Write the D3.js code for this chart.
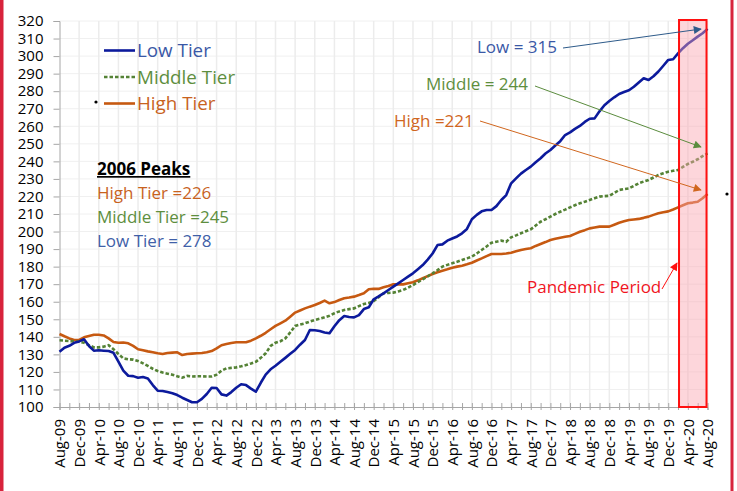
<!DOCTYPE html>
<html>
<head>
<meta charset="utf-8">
<script src="https://cdn.jsdelivr.net/npm/d3@7"></script>
<style>
  body { margin: 0; background: #fff; }
  svg { display: block; font-family: "Open Sans", sans-serif; }
</style>
</head>
<body>
<div id="chart"></div>
<script>
// monthly index values, Aug-09 .. Aug-20
var lowTier = [131.5,133.8,134.9,136.6,137.4,138.6,134.8,132.1,132.3,132.1,131.9,130.9,125.8,120.7,117.8,117.6,116.7,117.1,116.3,112.5,
  109.3,109.1,108.5,107.8,106.8,105.3,104.0,102.7,102.7,104.6,107.4,111.0,110.8,107.2,106.5,108.5,111.0,113.0,112.5,110.5,
  108.7,113.8,118.5,121.5,123.5,125.8,128.0,130.3,132.5,135.5,138.2,143.9,143.7,143.3,142.5,142.0,146.0,149.5,151.9,151.3,
  151.1,152.4,155.8,156.8,161.4,163.0,164.8,166.7,168.6,170.5,172.4,174.3,176.2,178.5,180.9,184.0,187.5,192.3,192.7,194.8,
  196.0,197.2,199.0,201.5,207.0,209.5,211.5,212.3,212.3,214.5,218.0,220.8,227.5,230.3,233.0,235.1,237.0,239.5,241.8,244.5,
  246.5,249.0,251.5,255.0,256.5,258.5,260.2,262.5,264.3,264.5,268.5,272.0,274.4,276.5,278.4,279.5,280.5,282.5,285.0,287.4,
  286.4,288.5,291.2,294.5,297.8,298.2,301.5,304.5,307.0,309.0,311.1,313.0,315.5];

var middleTier = [138.0,137.8,137.6,137.4,137.2,136.6,135.3,134.0,134.0,134.4,135.2,132.9,130.2,127.7,127.2,127.0,126.2,124.9,123.4,121.8,
  120.5,119.6,119.0,118.4,117.5,116.7,117.7,117.4,117.5,117.5,117.4,117.4,118.4,120.7,122.0,122.3,122.6,123.2,123.9,124.8,
  125.8,128.0,130.6,134.8,136.6,137.5,139.1,142.5,146.2,147.0,147.7,148.7,149.6,150.3,151.1,152.0,153.4,154.5,155.3,155.8,
  156.2,157.5,158.7,159.3,160.4,162.5,164.8,165.0,165.2,165.9,166.7,168.0,169.5,171.2,172.8,174.5,176.2,178.0,180.0,181.0,
  181.9,182.8,183.8,184.7,185.7,187.5,189.5,191.5,193.6,194.2,194.8,194.2,196.7,197.8,199.0,200.2,201.3,203.4,205.6,207.0,
  208.5,210.0,211.3,212.5,213.8,215.0,216.1,217.0,218.0,219.0,219.9,220.2,220.4,222.0,223.7,224.2,224.6,226.0,227.5,228.5,
  229.4,230.8,232.2,233.2,234.1,234.6,235.1,236.8,238.5,239.8,241.2,243.0,244.5];

var highTier = [141.6,140.3,139.1,138.2,138.2,139.7,140.5,141.2,141.2,140.8,139.1,137.0,136.6,136.8,136.3,134.8,132.9,132.3,131.7,131.2,
  130.6,130.2,130.8,131.0,131.2,129.6,130.2,130.4,130.6,130.8,131.2,131.9,133.4,135.2,135.9,136.5,136.9,136.9,136.9,137.8,
  139.1,140.6,142.3,144.3,146.2,147.7,149.2,151.5,153.8,155.0,156.2,157.2,158.1,159.3,160.6,159.1,159.8,161.0,162.0,162.4,
  162.9,163.8,164.8,167.1,167.4,167.3,168.2,169.0,169.9,169.9,169.9,170.5,171.1,172.2,173.4,174.6,175.8,176.8,177.7,178.5,
  179.4,180.0,180.5,181.3,182.2,183.5,184.7,186.0,187.2,187.2,187.2,187.5,187.9,188.7,189.5,190.0,190.5,191.8,192.9,194.0,
  195.2,195.9,196.5,197.0,197.5,198.7,199.9,200.8,201.8,202.3,202.8,202.8,202.8,203.9,205.0,205.8,206.6,206.9,207.2,207.8,
  208.5,209.5,210.4,211.0,211.5,212.6,213.8,215.0,216.1,216.5,217.0,219.0,221.4];

var tickLabels = ["Aug-09","Dec-09","Apr-10","Aug-10","Dec-10","Apr-11","Aug-11","Dec-11","Apr-12","Aug-12","Dec-12",
  "Apr-13","Aug-13","Dec-13","Apr-14","Aug-14","Dec-14","Apr-15","Aug-15","Dec-15","Apr-16","Aug-16","Dec-16",
  "Apr-17","Aug-17","Dec-17","Apr-18","Aug-18","Dec-18","Apr-19","Aug-19","Dec-19","Apr-20","Aug-20"];

var yTicks = d3.range(100, 321, 10);
var pandemicPeriod = [126.2, 131.8]; // month index, Feb-20 .. Jul-20

var seriesNames = ["Low Tier", "Middle Tier", "High Tier"];
var peaks2006 = [["High Tier =226", "#c8621e"], ["Middle Tier =245", "#5e8e3e"], ["Low Tier = 278", "#3f5fa8"]];

var W = 737, H = 491;
var svg = d3.select("#chart").append("svg").attr("width", W).attr("height", H);
svg.append("rect").attr("width", W).attr("height", H).attr("fill", "#fff");

var x = d3.scaleLinear().domain([0, lowTier.length - 1]).range([59.5, 707.5]);
var y = d3.scaleLinear().domain([100, 320]).range([407, 21]);

// gridlines
svg.append("g").selectAll("line").data(yTicks.slice(1)).join("line")
  .attr("x1", x(0)).attr("x2", x(132))
  .attr("y1", function(d) { return y(d); }).attr("y2", function(d) { return y(d); })
  .attr("stroke", "#f0f0f0").attr("stroke-width", 1);
svg.append("g").selectAll("line").data(d3.range(4, 133, 4)).join("line")
  .attr("x1", function(d) { return x(d); }).attr("x2", function(d) { return x(d); })
  .attr("y1", y(320)).attr("y2", y(100))
  .attr("stroke", "#ececec").attr("stroke-width", 1.5);

// y axis
var yAxis = svg.append("g").attr("transform", "translate(" + x(0) + ",0)")
  .call(d3.axisLeft(y).tickValues(yTicks).tickSize(6).tickPadding(10));
yAxis.select(".domain").attr("stroke", "#a6a6a6");
yAxis.selectAll(".tick line").attr("stroke", "#a6a6a6");
yAxis.selectAll("text").attr("font-size", "15px").attr("fill", "#000").attr("font-family", "Open Sans");

// x axis
var xAxis = svg.append("g").attr("transform", "translate(0," + y(100) + ")")
  .call(d3.axisBottom(x).tickValues(d3.range(0, 133, 2)).tickSize(3)
    .tickFormat(function(d) { return d % 4 === 0 ? tickLabels[d / 4] : ""; }));
xAxis.select(".domain").attr("stroke", "#a6a6a6");
xAxis.selectAll(".tick line").attr("stroke", "#a6a6a6").attr("y1", -4).attr("y2", 3);
xAxis.selectAll("text")
  .attr("font-size", "15px").attr("fill", "#000").attr("font-family", "Open Sans")
  .attr("text-anchor", "end")
  .attr("transform", "rotate(-90)")
  .attr("x", -12).attr("y", 0).attr("dy", "0.35em");

// lines
var line = d3.line().x(function(d, i) { return x(i); }).y(function(d) { return y(d); });
svg.append("path").datum(highTier).attr("d", line).attr("fill", "none")
  .attr("stroke", "#c65911").attr("stroke-width", 2.6).attr("stroke-linejoin", "round");
svg.append("path").datum(middleTier).attr("d", line).attr("fill", "none")
  .attr("stroke", "#548235").attr("stroke-width", 2.6).attr("stroke-dasharray", "3.5,2");
svg.append("path").datum(lowTier).attr("d", line).attr("fill", "none")
  .attr("stroke", "#0c1a9c").attr("stroke-width", 2.6).attr("stroke-linejoin", "round");

// pandemic band
svg.append("rect")
  .attr("x", x(pandemicPeriod[0])).attr("y", y(320) - 1)
  .attr("width", x(pandemicPeriod[1]) - x(pandemicPeriod[0]))
  .attr("height", y(100) - y(320) + 1)
  .attr("fill", "rgba(250,165,175,0.45)").attr("stroke", "#ff1010").attr("stroke-width", 2);

// legend
var legendColors = ["#0c1a9c", "#548235", "#c65911"];
var legendText = ["#3a58a6", "#5e8e3e", "#c8621e"];
var lg = svg.append("g");
seriesNames.forEach(function(name, i) {
  var ly = 50.5 + i * 26.5;
  lg.append("line").attr("x1", 104).attr("x2", 135).attr("y1", ly).attr("y2", ly)
    .attr("stroke", legendColors[i]).attr("stroke-width", 2.6)
    .attr("stroke-dasharray", i === 1 ? "3.5,2" : null);
  lg.append("text").attr("x", 137).attr("y", ly + 6.5).text(name)
    .attr("font-size", "18.8px").attr("fill", legendText[i]);
});

// 2006 peaks box
svg.append("text").attr("x", 97).attr("y", 175).text("2006 Peaks")
  .attr("font-size", "17px").attr("font-weight", "bold").attr("fill", "#000")
  .attr("text-decoration", "underline");
peaks2006.forEach(function(p, i) {
  svg.append("text").attr("x", 97).attr("y", 199 + i * 23.8).text(p[0])
    .attr("font-size", "17px").attr("fill", p[1]);
});

// annotations with arrows
var defs = svg.append("defs");
function marker(id, color) {
  defs.append("marker").attr("id", id).attr("viewBox", "0 0 10 10")
    .attr("refX", 9).attr("refY", 5).attr("markerWidth", 9).attr("markerHeight", 8)
    .attr("markerUnits", "userSpaceOnUse").attr("orient", "auto")
    .append("path").attr("d", "M0,0L10,5L0,10Z").attr("fill", color);
}
marker("mLow", "#2e5b8a");
marker("mMid", "#5b8c3e");
marker("mHigh", "#d0661e");
marker("mPan", "#ff1010");

var notes = [
  { text: "Low = 315", color: "#3a58a6", tx: 477, ty: 52.5, x1: 563, y1: 48, x2: 701, y2: 29, line: "#2e5b8a", m: "mLow" },
  { text: "Middle = 244", color: "#5e8e3e", tx: 426, ty: 90, x1: 535, y1: 86, x2: 701, y2: 147, line: "#5b8c3e", m: "mMid" },
  { text: "High =221", color: "#d0661e", tx: 394, ty: 127, x1: 480, y1: 121, x2: 701, y2: 190, line: "#d0661e", m: "mHigh" },
  { text: "Pandemic Period", color: "#f0141e", tx: 527, ty: 293, x1: 662, y1: 289, x2: 677, y2: 263, line: "#ff1010", m: "mPan" }
];
notes.forEach(function(n) {
  svg.append("line").attr("x1", n.x1).attr("y1", n.y1).attr("x2", n.x2).attr("y2", n.y2)
    .attr("stroke", n.line).attr("stroke-width", 1).attr("marker-end", "url(#" + n.m + ")");
  svg.append("text").attr("x", n.tx).attr("y", n.ty).text(n.text)
    .attr("font-size", "17px").attr("fill", n.color);
});

// stray dots
svg.append("circle").attr("cx", 96).attr("cy", 102).attr("r", 1.6).attr("fill", "#000");
svg.append("circle").attr("cx", 727).attr("cy", 194).attr("r", 1.6).attr("fill", "#000");

// page frame edges
svg.append("rect").attr("x", 0).attr("y", 0).attr("width", 3.5).attr("height", H).attr("fill", "#d8233c");
svg.append("rect").attr("x", 730.5).attr("y", 0).attr("width", 3).attr("height", H).attr("fill", "#d8233c");
</script>
</body>
</html>
